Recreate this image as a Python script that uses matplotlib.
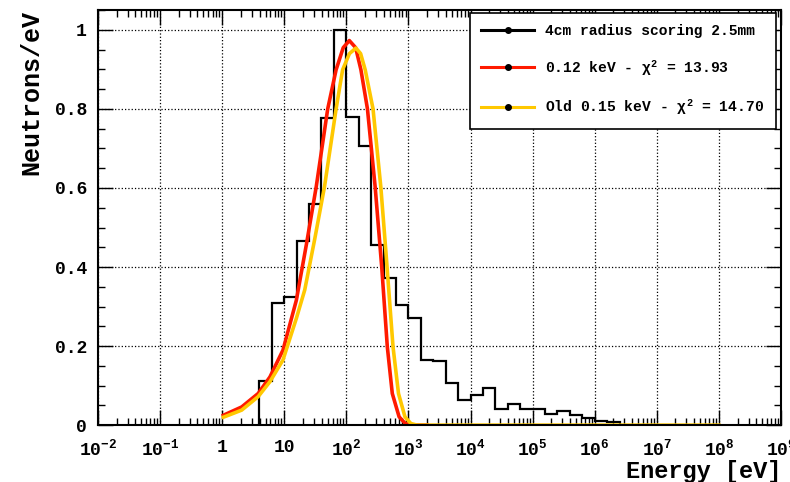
import matplotlib.pyplot as plt
import numpy as np
from matplotlib.lines import Line2D

plt.rcParams['font.family'] = ['Liberation Mono', 'DejaVu Sans']
plt.rcParams['font.weight'] = 'bold'
plt.rcParams['mathtext.fontset'] = 'custom'
plt.rcParams['mathtext.rm'] = 'Liberation Mono:bold'
plt.rcParams['mathtext.it'] = 'Liberation Mono:bold'
plt.rcParams['mathtext.bf'] = 'Liberation Mono:bold'

# histogram: bin edges in log10(E/eV), values in neutrons/eV
hist_edges_log = np.arange(0.6, 6.41, 0.2)
hist_values = [0.111, 0.31, 0.325, 0.467, 0.56, 0.778, 1.0, 0.779, 0.705, 0.456,
               0.373, 0.305, 0.27, 0.166, 0.162, 0.107, 0.063, 0.076, 0.095, 0.042,
               0.053, 0.042, 0.042, 0.029, 0.035, 0.025, 0.017, 0.011, 0.007]

# fit 0.12 keV
red_logE = [0.02, 0.315, 0.58, 0.77, 0.98, 1.195, 1.36, 1.515, 1.70, 1.835, 1.95,
            2.048, 2.15, 2.235, 2.34, 2.464, 2.57, 2.66, 2.74, 2.85, 2.95, 3.06, 3.3]
red_vals = [0.025, 0.046, 0.080, 0.122, 0.19, 0.316, 0.46, 0.603, 0.80, 0.899, 0.955,
            0.973, 0.955, 0.899, 0.80, 0.603, 0.40, 0.198, 0.08, 0.021, 0.004, 0.0, 0.0]

# old fit 0.15 keV
gold_logE = [0.02, 0.315, 0.58, 0.77, 0.98, 1.195, 1.33, 1.49, 1.648, 1.835, 1.94,
             2.05, 2.155, 2.23, 2.304, 2.43, 2.555, 2.635, 2.752, 2.84, 2.944, 3.04, 3.14, 8.0]
gold_vals = [0.02, 0.038, 0.072, 0.11, 0.165, 0.27, 0.342, 0.47, 0.603, 0.80, 0.899,
             0.94, 0.954, 0.94, 0.899, 0.80, 0.603, 0.443, 0.198, 0.08, 0.021, 0.004, 0.0, 0.0]

labels = ['4cm radius scoring 2.5mm', r'0.12 keV - $\chi^{2}$ = 13.93',
          r'Old 0.15 keV - $\chi^{2}$ = 14.70']
colors = ['black', '#ff1a00', '#ffc800']

fig = plt.figure(figsize=(7.9, 4.82), dpi=100)
ax = fig.add_axes([0.124, 0.118, 0.8646, 0.861])

ax.stairs(hist_values, 10 ** hist_edges_log, color=colors[0], lw=1.6, baseline=0)
ax.plot(10 ** np.array(red_logE), red_vals, color=colors[1], lw=2.6)
ax.plot(10 ** np.array(gold_logE), gold_vals, color=colors[2], lw=2.6)

ax.set_xscale('log')
ax.set_xlim(1e-2, 1e9)
ax.set_ylim(0, 1.05)

xt = 10.0 ** np.arange(-2, 10)
xl = []
for p in range(-2, 10):
    if p == 0:
        xl.append('1')
    elif p == 1:
        xl.append('10')
    else:
        xl.append(r'$10^{%d}$' % p)
ax.set_xticks(xt)
ax.set_xticklabels(xl)
ax.xaxis.set_minor_locator(plt.matplotlib.ticker.LogLocator(base=10, subs=np.arange(2, 10), numticks=100))
ax.xaxis.set_minor_formatter(plt.NullFormatter())
ax.set_yticks([0, 0.2, 0.4, 0.6, 0.8, 1.0])
ax.set_yticklabels(['0', '0.2', '0.4', '0.6', '0.8', '1'])
ax.yaxis.set_minor_locator(plt.MultipleLocator(0.05))

ax.tick_params(which='both', direction='in', top=True, right=True, labelsize=13, width=1)
ax.tick_params(which='major', length=11)
ax.tick_params(which='minor', length=5)
ax.tick_params(axis='x', which='major', pad=10)
ax.tick_params(axis='y', which='major', pad=8)
for s in ax.spines.values():
    s.set_linewidth(1.5)

ax.grid(True, which='major', ls=':', color='black', lw=0.9)

ax.set_ylabel('Neutrons/eV', fontsize=18, fontweight='bold', loc='top', labelpad=8)
ax.set_xlabel('Energy [eV]', fontsize=17, fontweight='bold', loc='right', labelpad=0)

handles = [Line2D([], [], color=c, lw=2.2, marker='o', ms=4, mfc='black', mec='black')
           for c in colors]
leg = ax.legend(handles, labels, loc='upper right', bbox_to_anchor=(0.993, 0.994),
                borderaxespad=0, fontsize=10.5, handlelength=3.6, labelspacing=1.35,
                fancybox=False, framealpha=1, edgecolor='black', borderpad=0.8)
leg.get_frame().set_linewidth(1.2)

fig.savefig('out.png', dpi=100)
